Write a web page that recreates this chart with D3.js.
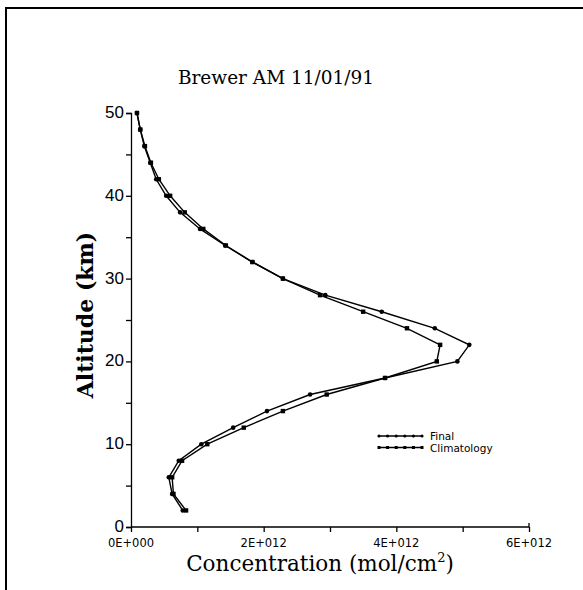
<!DOCTYPE html>
<html>
<head>
<meta charset="utf-8">
<script src="https://cdn.jsdelivr.net/npm/d3@7"></script>
<style>
body { margin: 0; background: #fff; }
</style>
</head>
<body>
<script>
// altitude levels (km) and concentrations (1E12 mol/cm2)
var altitudes = [2, 4, 6, 8, 10, 12, 14, 16, 18, 20, 22, 24, 26, 28, 30, 32, 34, 36, 38, 40, 42, 44, 46, 48, 50];
var finalValues = [0.78, 0.62, 0.57, 0.72, 1.06, 1.54, 2.05, 2.70, 3.83, 4.92, 5.10, 4.58, 3.78, 2.93, 2.29, 1.83, 1.42, 1.04, 0.74, 0.53, 0.38, 0.29, 0.20, 0.14, 0.09];
var climValues = [0.83, 0.64, 0.62, 0.77, 1.15, 1.70, 2.29, 2.95, 3.83, 4.61, 4.66, 4.16, 3.50, 2.85, 2.29, 1.83, 1.43, 1.09, 0.81, 0.59, 0.42, 0.30, 0.21, 0.14, 0.09];
var xTicks = [0, 2, 4, 6];
var xTickLabels = ["0E+000", "2E+012", "4E+012", "6E+012"];
var yTicks = [0, 10, 20, 30, 40, 50];
var seriesNames = ["Final", "Climatology"];

var svg = d3.select("body")
    .append("svg")
    .attr("width", 583)
    .attr("height", 590)
    .style("display", "block");

// frame (only top and left edges are visible)
svg.append("path")
    .attr("d", "M6,590 V8 H583")
    .attr("fill", "none")
    .attr("stroke", "#000")
    .attr("stroke-width", 2);

var x = d3.scaleLinear().domain([0, 6]).range([131, 529]);
var y = d3.scaleLinear().domain([0, 50]).range([527, 113]);

// ticks every 1E12, labels every 2E12
var xAxis = d3.axisBottom(x)
    .tickValues(d3.range(0, 6.5, 1))
    .tickSize(5)
    .tickFormat("");
svg.append("g")
    .attr("transform", "translate(0,527)")
    .call(xAxis)
    .call(function(g) { g.select(".domain").attr("d", "M131,0H529V-4"); });

svg.append("g").selectAll("text")
    .data(xTicks)
    .enter()
    .append("text")
    .attr("x", function(d) { return x(d); })
    .attr("y", 547)
    .attr("text-anchor", "middle")
    .style("font-family", "'DejaVu Sans', sans-serif")
    .style("font-size", "11.5px")
    .attr("fill", "#000")
    .text(function(d, i) { return xTickLabels[i]; });

var yAxis = d3.axisLeft(y)
    .tickValues(d3.range(0, 51, 5))
    .tickSize(5)
    .tickFormat("");
svg.append("g")
    .attr("transform", "translate(131,0)")
    .call(yAxis);

svg.append("g").selectAll("text")
    .data(yTicks)
    .enter()
    .append("text")
    .attr("x", 124)
    .attr("y", function(d) { return y(d) + 5; })
    .attr("text-anchor", "end")
    .style("font-family", "'Liberation Sans', Arial, sans-serif")
    .style("font-size", "17px")
    .text(function(d) { return d; });

svg.selectAll(".tick line, .domain").attr("stroke", "#000").attr("stroke-width", 1.3);

// curves
var line = d3.line()
    .x(function(d) { return x(d[0]); })
    .y(function(d) { return y(d[1]); });

[finalValues, climValues].forEach(function(vals, k) {
    var pts = vals.map(function(v, i) { return [v, altitudes[i]]; });
    svg.append("path")
        .datum(pts)
        .attr("d", line)
        .attr("fill", "none")
        .attr("stroke", "#000")
        .attr("stroke-width", 1.4);
    svg.append("g").selectAll(k ? "rect" : "circle")
        .data(pts)
        .enter()
        .append(k ? "rect" : "circle")
        .each(function(d) {
            var s = d3.select(this);
            if (k) {
                s.attr("x", x(d[0]) - 2.2).attr("y", y(d[1]) - 2.2).attr("width", 4.4).attr("height", 4.4);
            } else {
                s.attr("cx", x(d[0])).attr("cy", y(d[1])).attr("r", 2.3);
            }
        })
        .attr("fill", "#000");
});

// legend
var legend = svg.append("g").attr("transform", "translate(379,436)");
seriesNames.forEach(function(name, k) {
    var row = legend.append("g").attr("transform", "translate(0," + (k * 11.5) + ")");
    row.append("line")
        .attr("x1", 0).attr("x2", 43)
        .attr("stroke", "#000").attr("stroke-width", 1.3);
    d3.range(0, 44, 8.6).forEach(function(px) {
        if (k) {
            row.append("rect").attr("x", px - 1.5).attr("y", -1.5).attr("width", 3).attr("height", 3).attr("fill", "#000");
        } else {
            row.append("circle").attr("cx", px).attr("cy", 0).attr("r", 1.6).attr("fill", "#000");
        }
    });
    row.append("text")
        .attr("x", 51)
        .attr("y", 4)
        .style("font-family", "'DejaVu Sans', sans-serif")
        .style("font-size", "10.5px")
        .attr("fill", "#000")
        .text(name);
});

// titles
svg.append("text")
    .attr("x", 276)
    .attr("y", 84)
    .attr("text-anchor", "middle")
    .style("font-family", "'DejaVu Serif', serif")
    .style("font-size", "18.5px")
    .text("Brewer AM 11/01/91");

var xTitle = svg.append("text")
    .attr("x", 320)
    .attr("y", 571)
    .attr("text-anchor", "middle")
    .style("font-family", "'DejaVu Serif', serif")
    .style("font-size", "21.5px");
xTitle.append("tspan").text("Concentration (mol/cm");
xTitle.append("tspan").attr("dy", -9).style("font-size", "13px").text("2");
xTitle.append("tspan").attr("dy", 9).text(")");

svg.append("text")
    .attr("transform", "translate(93,315) rotate(-90)")
    .attr("text-anchor", "middle")
    .style("font-family", "'DejaVu Serif', serif")
    .style("font-size", "22px")
    .style("font-weight", "bold")
    .text("Altitude (km)");
</script>
</body>
</html>
